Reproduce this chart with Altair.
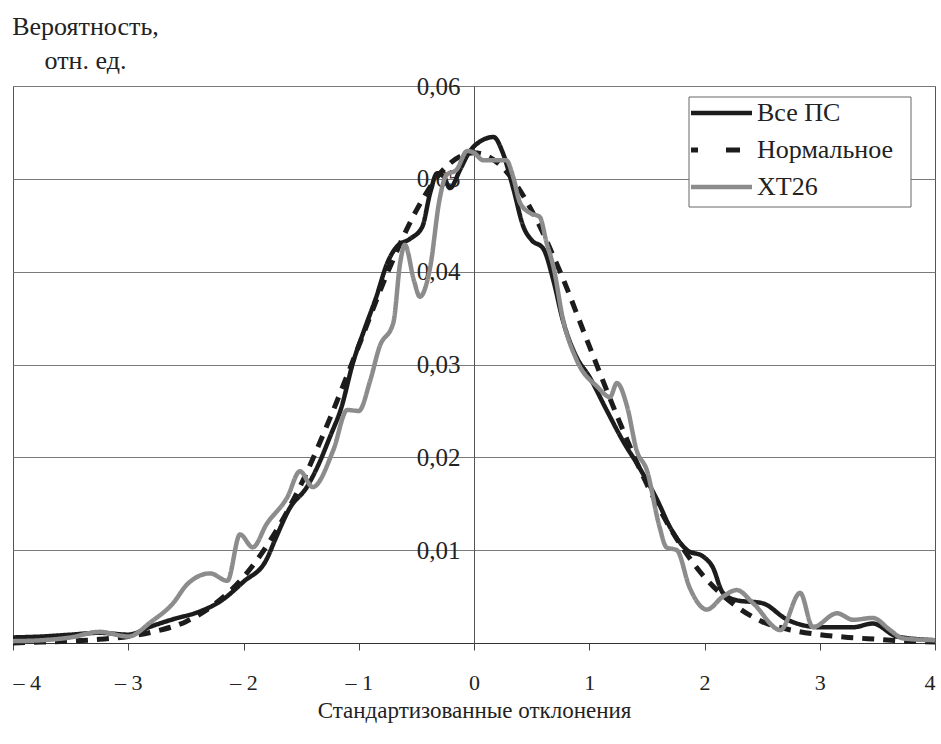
import altair as alt
import pandas as pd

SERIES = ["Все ПС", "Нормальное", "ХТ26"]

# "Все ПС" curve: standardized deviation -> probability
all_x = [-4.0, -3.75, -3.5, -3.25, -3.0, -2.8, -2.6, -2.4, -2.2, -2.0, -1.8, -1.72,
         -1.6, -1.45, -1.35, -1.25, -1.15, -1.05, -0.95, -0.85, -0.75, -0.67, -0.56,
         -0.45, -0.38, -0.32, -0.26, -0.21, -0.12, -0.05, 0.0, 0.17, 0.25, 0.34, 0.43,
         0.5, 0.6, 0.69, 0.77, 0.89, 1.0, 1.15, 1.3, 1.42, 1.59, 1.7, 1.85, 1.99, 2.07,
         2.16, 2.28, 2.5, 2.72, 3.0, 3.29, 3.46, 3.67, 4.0]
all_p = [0.0006, 0.0007, 0.0009, 0.0011, 0.0009, 0.0018, 0.0026, 0.0033, 0.0045, 0.0066,
         0.0090, 0.0113, 0.0145, 0.0168, 0.0192, 0.0222, 0.0254, 0.0302, 0.0338, 0.0372,
         0.0410, 0.0427, 0.0435, 0.0448, 0.0485, 0.0506, 0.0502, 0.0490, 0.0510, 0.0527,
         0.0535, 0.0545, 0.0528, 0.0490, 0.0448, 0.0434, 0.0425, 0.0390, 0.0348, 0.0308,
         0.0287, 0.0251, 0.0216, 0.0192, 0.0154, 0.0125, 0.0100, 0.0093, 0.0082, 0.0054,
         0.0046, 0.0043, 0.0025, 0.0017, 0.0017, 0.0021, 0.0007, 0.0003]

# Reference normal distribution
norm_x = [-4.0, -3.75, -3.5, -3.25, -3.0, -2.75, -2.5, -2.25, -2.0, -1.75, -1.5, -1.25,
          -1.0, -0.75, -0.5, -0.25, 0.0, 0.25, 0.5, 0.75, 1.0, 1.25, 1.5, 1.75, 2.0,
          2.25, 2.5, 2.75, 3.0, 3.25, 3.5, 3.75, 4.0]
norm_p = [0.0000, 0.0001, 0.0002, 0.0004, 0.0007, 0.0013, 0.0023, 0.0042, 0.0071, 0.0114,
          0.0171, 0.0242, 0.0320, 0.0399, 0.0466, 0.0512, 0.0528, 0.0512, 0.0466, 0.0399,
          0.0320, 0.0242, 0.0171, 0.0114, 0.0071, 0.0042, 0.0023, 0.0014, 0.0009, 0.0006,
          0.0004, 0.0002, 0.0001]

# ХТ26 curve
xt_x = [-4.0, -3.75, -3.5, -3.25, -3.0, -2.8, -2.61, -2.49, -2.29, -2.14, -2.03, -1.92,
        -1.8, -1.62, -1.51, -1.4, -1.22, -1.1, -1.0, -0.9, -0.82, -0.7, -0.64, -0.6,
        -0.52, -0.47, -0.38, -0.3, -0.24, -0.15, -0.06, 0.0, 0.08, 0.2, 0.28, 0.34, 0.4,
        0.49, 0.57, 0.63, 0.69, 0.77, 0.89, 1.07, 1.18, 1.24, 1.33, 1.41, 1.5, 1.61,
        1.67, 1.76, 1.87, 2.02, 2.16, 2.28, 2.42, 2.66, 2.83, 2.94, 3.15, 3.29, 3.46,
        3.61, 3.72, 4.0]
xt_p = [0.0002, 0.0003, 0.0006, 0.0012, 0.0007, 0.0023, 0.0043, 0.0063, 0.0075, 0.0067,
        0.0117, 0.0103, 0.0128, 0.0157, 0.0185, 0.0168, 0.0208, 0.0251, 0.0250, 0.0283,
        0.0319, 0.0345, 0.0410, 0.0429, 0.0390, 0.0373, 0.0405, 0.0477, 0.0504, 0.0510,
        0.0530, 0.0528, 0.0520, 0.0520, 0.0520, 0.0502, 0.0474, 0.0463, 0.0459, 0.0431,
        0.0405, 0.0350, 0.0305, 0.0276, 0.0265, 0.0280, 0.0254, 0.0208, 0.0186, 0.0125,
        0.0103, 0.0100, 0.0060, 0.0036, 0.0050, 0.0057, 0.0043, 0.0014, 0.0054, 0.0017,
        0.0032, 0.0025, 0.0027, 0.0014, 0.0005, 0.0003]

x_ticks = [-4, -3, -2, -1, 0, 1, 2, 3, 4]
y_ticks = [0.01, 0.02, 0.03, 0.04, 0.05, 0.06]

FONT = "Liberation Serif"
INK = "#1c1c1c"
GREY = "#8c8c8c"
W, H = 922, 557
PAD_L, PAD_T = 13, 86

# line style of each series: colour, width, dash
STYLE = {
    "Все ПС": (INK, 4.5, [1, 0]),
    "Нормальное": (INK, 5, [12, 9]),
    "ХТ26": (GREY, 4.5, [1, 0]),
}

x_enc = alt.X(
    "x:Q",
    scale=alt.Scale(domain=[-4, 4], nice=False),
    axis=alt.Axis(
        values=x_ticks,
        labelExpr="datum.value < 0 ? '– ' + abs(datum.value) : '' + datum.value",
        title="Стандартизованные отклонения",
        grid=False,
        tickSize=7,
        tickColor="#444",
        domainColor="#333",
        labelFont=FONT,
        labelFontSize=22,
        labelColor="#222",
        labelPadding=22,
        titleFont=FONT,
        titleFontSize=23,
        titleFontWeight="normal",
        titleColor="#222",
        titlePadding=6,
    ),
)

y_enc = alt.Y(
    "p:Q",
    scale=alt.Scale(domain=[0, 0.06], nice=False),
    axis=alt.Axis(
        values=y_ticks,
        labelExpr="replace(format(datum.value, '.2f'), '.', ',')",
        title=None,
        offset=-(W / 2),
        grid=True,
        gridColor="#7a7a7a",
        gridWidth=1,
        ticks=False,
        domainColor="#555",
        labelFont=FONT,
        labelFontSize=25,
        labelColor="#222",
        labelPadding=14,
    ),
)


def curve(xs, ps, name):
    color, width, dash = STYLE[name]
    df = pd.DataFrame({"x": xs, "p": ps, "series": name})
    return alt.Chart(df).mark_line(
        interpolate="monotone", color=color, strokeWidth=width, strokeDash=dash,
        strokeCap="butt", strokeJoin="round",
    ).encode(x=x_enc, y=y_enc)


# legend box in the upper right corner of the plot
LEG_X0, LEG_X1, LEG_Y0, LEG_Y1 = 676, 898, 11, 121
ROW_Y = [27, 64, 101]

legend_layers = [
    alt.Chart(pd.DataFrame({"k": [0]})).mark_rect(
        fill="white", stroke="#666", strokeWidth=1
    ).encode(x=alt.value(LEG_X0), x2=alt.value(LEG_X1),
             y=alt.value(LEG_Y0), y2=alt.value(LEG_Y1))
]
for name, ry in zip(SERIES, ROW_Y):
    color, width, dash = STYLE[name]
    sym_dash = [14, 28] if dash != [1, 0] else dash
    legend_layers.append(
        alt.Chart(pd.DataFrame({"series": [name]})).mark_rule(
            color=color, strokeWidth=width, strokeDash=sym_dash,
            strokeDashOffset=7 if dash != [1, 0] else 0, strokeCap="butt",
        ).encode(x=alt.value(LEG_X0 + 2), x2=alt.value(LEG_X0 + 63), y=alt.value(ry))
    )
    legend_layers.append(
        alt.Chart(pd.DataFrame({"series": [name]})).mark_text(
            align="left", baseline="middle", font=FONT, fontSize=26, color="#222",
        ).encode(x=alt.value(LEG_X0 + 68), y=alt.value(ry), text="series:N")
    )

chart = alt.layer(
    curve(all_x, all_p, "Все ПС"),
    curve(norm_x, norm_p, "Нормальное"),
    curve(xt_x, xt_p, "ХТ26"),
    *legend_layers,
).properties(
    width=W,
    height=H,
    padding={"left": PAD_L, "top": PAD_T, "right": 941 - PAD_L - W, "bottom": 744 - PAD_T - H},
    autosize=alt.AutoSizeParams(type="none"),
    title=alt.TitleParams(
        ["Вероятность,", "отн. ед."],
        anchor="start",
        align="center",
        dx=75,
        dy=40,
        offset=19,
        baseline="alphabetic",
        lineHeight=34,
        font=FONT,
        fontSize=26,
        fontWeight="normal",
        color="#222",
    ),
).configure(
    background="white", font=FONT
).configure_view(
    stroke="#555", strokeWidth=1
)

chart.save("out.html", embed_options={"renderer": "svg", "actions": False})
